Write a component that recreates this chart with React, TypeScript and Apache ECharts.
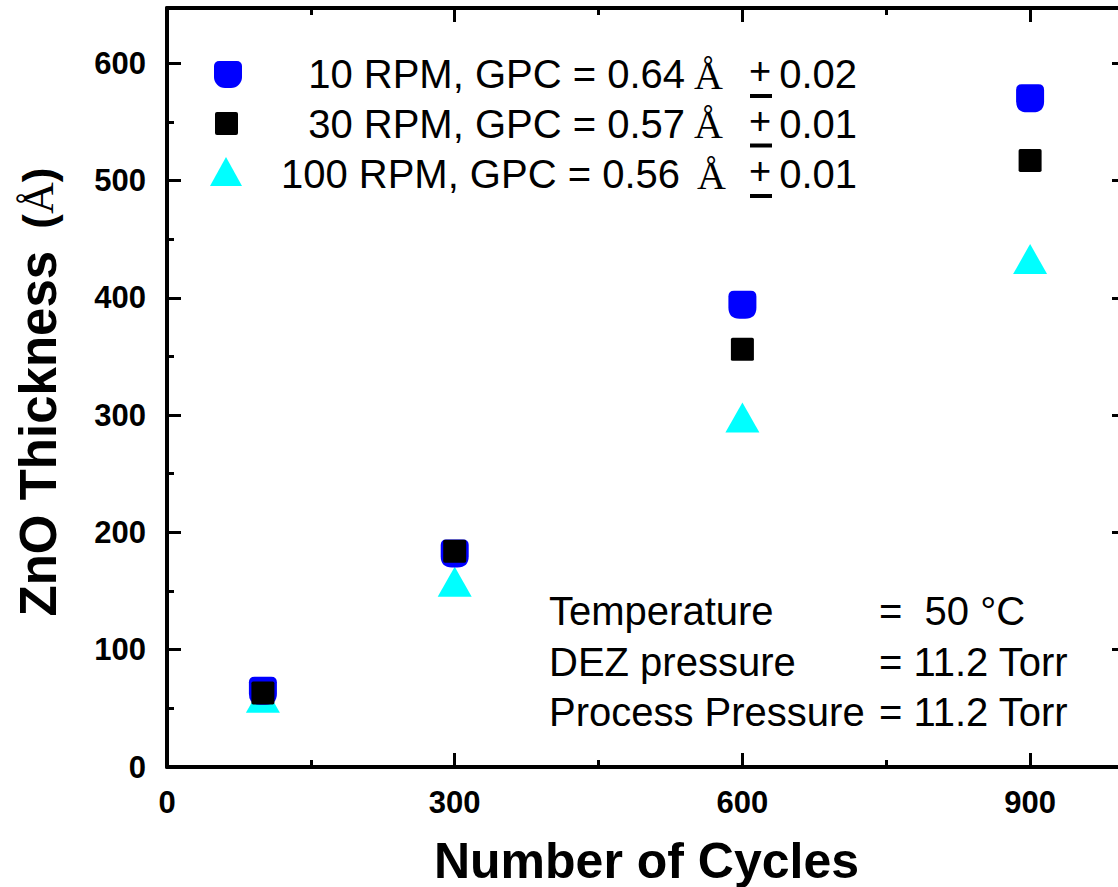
import React, { useEffect, useRef } from "react";
import * as echarts from "echarts";

const cycles = [100, 300, 600, 900];
const thickness10 = [65, 182, 394, 570];
const thickness30 = [63, 184, 356, 517];
const thickness100 = [59, 158, 298, 433];

const xMajorTicks = [0, 300, 600, 900];
const xMinorTicks = [150, 450, 750];
const yMajorTicks = [0, 100, 200, 300, 400, 500, 600];
const yMinorTicks = [50, 150, 250, 350, 450, 550];

const legendLabels = ["10 RPM, GPC = 0.64", "30 RPM, GPC = 0.57", "100 RPM, GPC = 0.56"];
const legendErrors = ["0.02", "0.01", "0.01"];
const conditionNames = ["Temperature", "DEZ pressure", "Process Pressure"];
const conditionValues = ["=  50 °C", "= 11.2 Torr", "= 11.2 Torr"];

const SANS = "'Liberation Sans', Arial, Helvetica, sans-serif";
const SERIF = "'Liberation Serif', 'Times New Roman', serif";

const BLUE_PATH =
  "path://M4,0 L16,0 Q20,0 20,4 L20,12 Q20,20 12,20 L8,20 Q0,20 0,12 L0,4 Q0,0 4,0 Z";
const SQUARE_PATH =
  "path://M1.5,0 L18.5,0 Q20,0 20,1.5 L20,18.5 Q20,20 18.5,20 L1.5,20 Q0,20 0,18.5 L0,1.5 Q0,0 1.5,0 Z";

function makeAxis(dim: "x" | "y", position: string, ticks: number[], len: number, withLine: boolean, withLabels: boolean, extra: any = {}) {
  return {
    type: "value",
    position,
    min: 0,
    max: dim === "x" ? 1000 : 647,
    axisLine: { show: withLine, onZero: false, lineStyle: { color: "#000", width: 4 } },
    axisTick: {
      show: true,
      inside: true,
      length: len,
      customValues: ticks,
      lineStyle: { color: "#000", width: 3 },
    },
    axisLabel: withLabels
      ? {
          show: true,
          customValues: ticks,
          margin: dim === "x" ? 20 : 21,
          color: "#000",
          fontFamily: SANS,
          fontWeight: "bold",
          fontSize: 31,
        }
      : { show: false },
    splitLine: { show: false },
    minorTick: { show: false },
    ...extra,
  };
}

export default function App() {
  const ref = useRef<HTMLDivElement>(null);
  useEffect(() => {
    if (!ref.current) return;
    const chart = echarts.init(ref.current, undefined, { renderer: "svg" });

    const legendColors = ["#0000FF", "#000000", "#00FFFF"];
    const rowY = [74, 123.5, 174];
    const graphic: any[] = [];

    // legend markers
    graphic.push({
      type: "rect",
      shape: { x: 214, y: 61, width: 28, height: 27, r: [5, 5, 11, 11] },
      style: { fill: legendColors[0] },
    });
    graphic.push({
      type: "rect",
      shape: { x: 215, y: 112, width: 23, height: 23, r: 2 },
      style: { fill: legendColors[1] },
    });
    graphic.push({
      type: "polygon",
      shape: { points: [[226, 157], [242, 186], [210, 186]] },
      style: { fill: legendColors[2] },
    });

    legendLabels.forEach((lab, i) => {
      const y = rowY[i];
      graphic.push({
        type: "text",
        x: i === 2 ? 680 : 685,
        y,
        style: { text: lab, font: `40px ${SANS}`, fill: "#000", align: "right", verticalAlign: "middle" },
      });
      graphic.push({
        type: "text",
        x: i === 2 ? 697 : 694,
        y: y + 1,
        style: { text: "Å", font: `40px ${SERIF}`, fill: "#000", align: "left", verticalAlign: "middle" },
      });
      graphic.push({
        type: "text",
        x: 749,
        y: y - 3,
        style: { text: "+", font: `38px ${SANS}`, fill: "#000", align: "left", verticalAlign: "middle" },
      });
      graphic.push({
        type: "rect",
        shape: { x: 750, y: y + 20, width: 22, height: 4 },
        style: { fill: "#000" },
      });
      graphic.push({
        type: "text",
        x: 857,
        y,
        style: { text: legendErrors[i], font: `40px ${SANS}`, fill: "#000", align: "right", verticalAlign: "middle" },
      });
    });

    const condY = [611, 662, 712];
    conditionNames.forEach((nm, i) => {
      graphic.push({
        type: "text",
        x: 549,
        y: condY[i],
        style: { text: nm, font: `40px ${SANS}`, fill: "#000", align: "left", verticalAlign: "middle" },
      });
      graphic.push({
        type: "text",
        x: 879,
        y: condY[i],
        style: { text: conditionValues[i], font: `40px ${SANS}`, fill: "#000", align: "left", verticalAlign: "middle" },
      });
    });

    // y axis title
    graphic.push({
      type: "text",
      x: 38,
      y: 392,
      rotation: Math.PI / 2,
      style: {
        text: "{a|ZnO Thickness}{s| }{b|(}{c|Å}{b|)}",
        align: "center",
        verticalAlign: "middle",
        fill: "#000",
        rich: {
          a: { fontFamily: SANS, fontWeight: "bold", fontSize: 51, fill: "#000" },
          s: { fontFamily: SANS, fontSize: 80, fill: "#000" },
          b: { fontFamily: SANS, fontWeight: "bold", fontSize: 44, fill: "#000" },
          c: { fontFamily: SERIF, fontWeight: "normal", fontSize: 44, fill: "#000" },
        },
      },
    });

    chart.setOption({
      animation: false,
      backgroundColor: "#fff",
      grid: { left: 167, top: 8, right: -8, bottom: 120, containLabel: false, outerBoundsMode: "none" },
      xAxis: [
        makeAxis("x", "bottom", xMajorTicks, 14, true, true, {
          name: "Number of Cycles",
          nameLocation: "middle",
          nameGap: 69,
          nameTextStyle: { fontFamily: SANS, fontWeight: "bold", fontSize: 50, color: "#000" },
        }),
        makeAxis("x", "bottom", xMinorTicks, 7, false, false),
        makeAxis("x", "top", xMajorTicks, 14, true, false),
        makeAxis("x", "top", xMinorTicks, 7, false, false),
      ],
      yAxis: [
        makeAxis("y", "left", yMajorTicks, 14, true, true),
        makeAxis("y", "left", yMinorTicks, 7, false, false),
        makeAxis("y", "right", yMajorTicks, 14, true, false),
        makeAxis("y", "right", yMinorTicks, 7, false, false),
      ],
      series: [
        {
          type: "scatter",
          name: "100 RPM",
          xAxisIndex: 0,
          yAxisIndex: 0,
          data: cycles.map((c, i) => [c, thickness100[i]]),
          symbol: "triangle",
          symbolSize: [34, 30],
          itemStyle: { color: "#00FFFF", opacity: 1 },
        },
        {
          type: "scatter",
          name: "10 RPM",
          xAxisIndex: 0,
          yAxisIndex: 0,
          data: cycles.map((c, i) => [c, thickness10[i]]),
          symbol: BLUE_PATH,
          symbolSize: 28,
          itemStyle: { color: "#0000FF", opacity: 1 },
        },
        {
          type: "scatter",
          name: "30 RPM",
          xAxisIndex: 0,
          yAxisIndex: 0,
          data: cycles.map((c, i) => [c, thickness30[i]]),
          symbol: SQUARE_PATH,
          symbolSize: 23,
          itemStyle: { color: "#000000", opacity: 1 },
        },
      ],
      graphic,
    });
    return () => chart.dispose();
  }, []);

  return (
    <div
      ref={ref}
      style={{ position: "absolute", left: 0, top: 0, width: 1118, height: 887, background: "#fff" }}
    />
  );
}
